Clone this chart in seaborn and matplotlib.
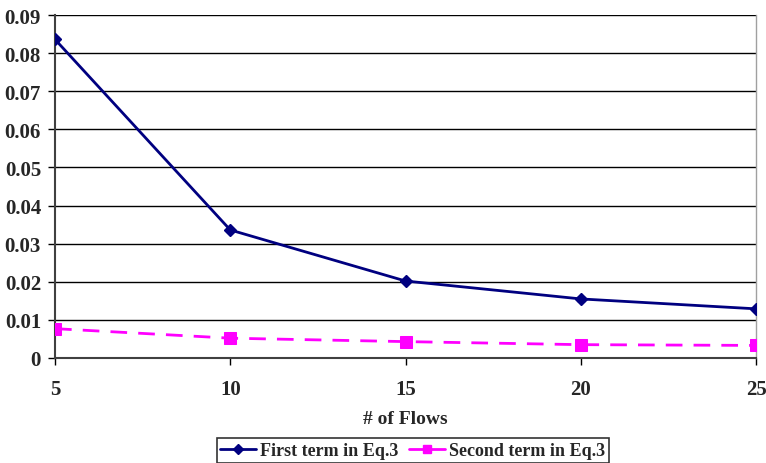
import matplotlib
matplotlib.use("Agg")
import matplotlib.pyplot as plt
from matplotlib.lines import Line2D
import seaborn as sns
import numpy as np

flows = [5, 10, 15, 20, 25]
first_term = [0.0836, 0.0336, 0.0202, 0.0155, 0.0129]
first_err = [0.0007, 0.0003, 0.0003, 0.0006, 0.0003]
second_term = [0.0077, 0.0052, 0.0043, 0.0035, 0.0033]
y_ticks = [0, 0.01, 0.02, 0.03, 0.04, 0.05, 0.06, 0.07, 0.08, 0.09]
y_labels = ["0", "0.01", "0.02", "0.03", "0.04", "0.05", "0.06", "0.07", "0.08", "0.09"]
series_names = ['First term in Eq.3', 'Second term in Eq.3']

sns.set_style("white")
plt.rcParams['font.family'] = ['Liberation Serif', 'DejaVu Serif']
plt.rcParams['font.weight'] = 'bold'

navy = '#000080'
magenta = '#FF00FF'

fig = plt.figure(figsize=(7.66, 4.64), dpi=100)
ax = fig.add_axes([0.0718, 0.2263, 0.9152, 0.7392])

for y in y_ticks[1:]:
    ax.axhline(y, color='black', linewidth=1.0, zorder=0)

ax.errorbar(flows, first_term, yerr=first_err, color=navy, linewidth=2,
            marker='D', markersize=6, capsize=3, elinewidth=1, zorder=3)
sns.lineplot(x=flows, y=second_term, ax=ax, color=magenta, linewidth=2,
             linestyle=(0, (6, 4)), marker='s', markersize=8,
             markeredgecolor=magenta, zorder=3, legend=False)

ax.set_xlim(5, 25)
ax.set_ylim(0, 0.09)
ax.set_xticks(flows)
ax.set_xticklabels([str(f) for f in flows], fontsize=15, fontweight='bold')
ax.set_yticks(y_ticks)
ax.set_yticklabels(y_labels, fontsize=15, fontweight='bold')
ax.tick_params(axis='both', direction='out', length=5, width=1, color='black',
               bottom=True, left=True, pad=5)
ax.tick_params(axis='x', pad=10)

ax.spines['top'].set_visible(False)
ax.spines['left'].set_color('#404040')
ax.spines['bottom'].set_color('#404040')
ax.spines['left'].set_linewidth(1.5)
ax.spines['bottom'].set_linewidth(1.5)
ax.spines['right'].set_color('#a0a0a0')
ax.spines['right'].set_linewidth(1)

ax.set_xlabel('# of Flows', fontsize=14, fontweight='bold', labelpad=8)
ax.set_ylabel('')

handles = [
    Line2D([], [], color=navy, linewidth=2, marker='D', markersize=5),
    Line2D([], [], color=magenta, linewidth=2, marker='s', markersize=6),
]
leg = ax.legend(handles, series_names, loc='center',
                bbox_to_anchor=(0.51, -0.27), ncol=2,
                frameon=True, fancybox=False, fontsize=13, handlelength=2.0,
                columnspacing=0.6, handletextpad=0.2, borderpad=0.2)
leg.get_frame().set_edgecolor('black')
leg.get_frame().set_linewidth(1.2)

fig.savefig('out.png', dpi=100)
